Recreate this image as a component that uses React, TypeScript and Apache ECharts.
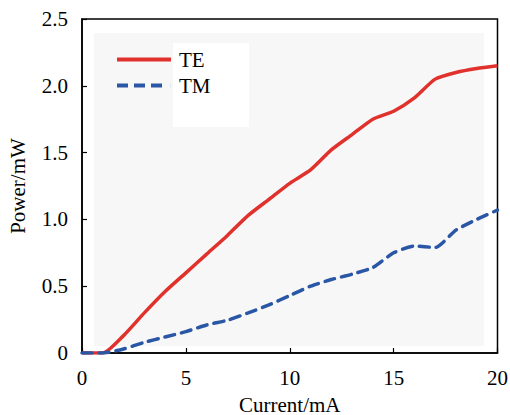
import React, { useEffect, useRef } from "react";
import * as echarts from "echarts";

const currents = [0, 1, 2, 3, 4, 5, 6, 7, 8, 9, 10, 11, 12, 13, 14, 15, 16, 17, 18, 19, 20];
const teValues = [0, 0, 0.13, 0.3, 0.46, 0.6, 0.74, 0.88, 1.03, 1.15, 1.27, 1.37, 1.52, 1.635, 1.75, 1.81, 1.91, 2.05, 2.1, 2.13, 2.15];
const tmValues = [0, 0, 0.03, 0.08, 0.12, 0.16, 0.21, 0.245, 0.3, 0.36, 0.43, 0.5, 0.55, 0.59, 0.64, 0.75, 0.8, 0.79, 0.92, 1.0, 1.07];
const seriesNames = ["TE", "TM"];
const xTitle = "Current/mA";
const yTitle = "Power/mW";

const FONT = "'Liberation Serif', 'Times New Roman', serif";
const RED = "#e0312c";
const BLUE = "#2a57a5";

const solidIcon = "path://M0,0h54v4h-54z";
const dashIcon = "path://M0,0h11v4h-11z M17,0h11v4h-11z M34,0h11v4h-11z M53.9,0h0.1v4h-0.1z";

export default function App() {
  const ref = useRef<HTMLDivElement>(null);
  useEffect(() => {
    if (!ref.current) return;
    const chart = echarts.init(ref.current, null, { renderer: "svg" });
    const te = currents.map((c, i) => [c, teValues[i]]);
    const tm = currents.map((c, i) => [c, tmValues[i]]);
    chart.setOption({
      animation: false,
      backgroundColor: "#ffffff",
      textStyle: { fontFamily: FONT },
      graphic: [
        {
          type: "rect",
          shape: { x: 94, y: 33, width: 390, height: 313 },
          style: { fill: "#f7f7f7" },
          z: -10,
          silent: true,
        },
        {
          type: "rect",
          shape: { x: 173, y: 43, width: 76, height: 84 },
          style: { fill: "#ffffff" },
          z: -9,
          silent: true,
        },
      ],
      grid: {
        left: 82,
        right: 12.5,
        top: 19,
        bottom: 62,
        show: true,
        borderColor: "#000",
        borderWidth: 1.5,
        backgroundColor: "transparent",
        containLabel: false,
        outerBoundsMode: "none",
      },
      legend: {
        orient: "vertical",
        left: 117,
        top: 49,
        padding: 0,
        itemWidth: 54,
        itemHeight: 4,
        itemGap: 5,
        symbolKeepAspect: false,
        data: [
          { name: seriesNames[0], icon: solidIcon, itemStyle: { color: RED } },
          { name: seriesNames[1], icon: dashIcon, itemStyle: { color: BLUE } },
        ],
        textStyle: { fontFamily: FONT, fontSize: 21, color: "#000", padding: [0, 0, 0, 3] },
      },
      xAxis: {
        type: "value",
        min: 0,
        max: 20,
        interval: 5,
        name: xTitle,
        nameLocation: "middle",
        nameGap: 41,
        nameTextStyle: { fontFamily: FONT, fontSize: 21, lineHeight: 21, color: "#000" },
        axisLine: { show: true, lineStyle: { color: "#000", width: 1.5 } },
        axisTick: { show: true, inside: true, length: 5, lineStyle: { color: "#000", width: 1.2 } },
        axisLabel: { fontFamily: FONT, fontSize: 21, color: "#000", margin: 14 },
        splitLine: { show: false },
      },
      yAxis: {
        type: "value",
        min: 0,
        max: 2.5,
        interval: 0.5,
        name: yTitle,
        nameLocation: "middle",
        nameGap: 54,
        nameRotate: 90,
        nameTextStyle: { fontFamily: FONT, fontSize: 21, color: "#000" },
        axisLine: { show: true, lineStyle: { color: "#000", width: 1.5 } },
        axisTick: { show: true, inside: true, length: 5, lineStyle: { color: "#000", width: 1.2 } },
        axisLabel: {
          fontFamily: FONT,
          fontSize: 21,
          color: "#000",
          margin: 14,
          formatter: (v: number) => (v === 0 ? "0" : v.toFixed(1)),
        },
        splitLine: { show: false },
      },
      series: [
        {
          name: seriesNames[0],
          type: "line",
          data: te,
          smooth: 0.2,
          symbol: "none",
          lineStyle: { color: RED, width: 3.5 },
          itemStyle: { color: RED },
        },
        {
          name: seriesNames[1],
          type: "line",
          data: tm,
          smooth: 0.2,
          symbol: "none",
          lineStyle: { color: BLUE, width: 3.5, type: [10, 7], cap: "round" },
          itemStyle: { color: BLUE },
        },
      ],
    });
    return () => chart.dispose();
  }, []);
  return (
    <div style={{ position: "fixed", left: 0, top: 0, width: 510, height: 415 }}>
      <div ref={ref} style={{ width: 510, height: 415 }} />
    </div>
  );
}
